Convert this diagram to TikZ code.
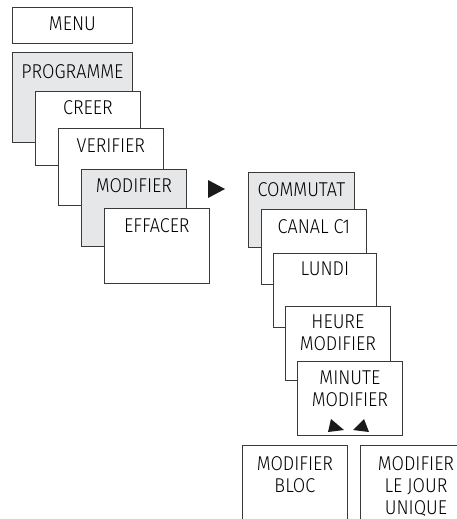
\documentclass[tikz,border=0pt]{standalone}
\usepackage{fontspec}
\setmainfont{Fira Sans Light}[FakeStretch=0.9]
\definecolor{linec}{HTML}{3A3A3A}
\definecolor{grayc}{HTML}{E6E7E8}
\definecolor{arrc}{HTML}{1A1A1A}
\begin{document}
\begin{tikzpicture}[x=1pt,y=-1pt,
  box/.style={draw=linec, line width=0.8pt, fill=white, inner sep=0pt, anchor=north west},
  gbox/.style={box, fill=grayc},
  txt/.style={anchor=north, inner sep=0pt, align=center, text=black,
    font=\fontsize{20}{22}\selectfont},
  tri/.style={fill=arrc}]
\useasboundingbox (0,0) rectangle (457,519);
\clip (0,0) rectangle (457,519);
% left column
\node[box, minimum width=120pt, minimum height=36pt] (menu) at (12,7) {};
\node[txt] (menu-t) at ([yshift=-10pt]menu.north) {MENU};
\node[gbox, minimum width=120pt, minimum height=90pt] (prog) at (12,52) {};
\node[txt] (prog-t) at ([yshift=-12pt]prog.north) {PROGRAMME};
\node[box, minimum width=105pt, minimum height=74pt] (creer) at (35,91) {};
\node[txt] (creer-t) at ([yshift=-9pt]creer.north) {CREER};
\node[box, minimum width=105pt, minimum height=77pt] (verif) at (58,128) {};
\node[txt] (verif-t) at ([yshift=-11pt]verif.north) {VERIFIER};
\node[gbox, minimum width=105pt, minimum height=77pt] (modif) at (81,169) {};
\node[txt] (modif-t) at ([yshift=-9pt]modif.north) {MODIFIER};
\node[box, minimum width=105pt, minimum height=75pt] (effac) at (104,208) {};
\node[txt] (effac-t) at ([yshift=-10pt]effac.north) {EFFACER};
% arrow
\fill[tri] (208,180) -- (225,189) -- (208,198) -- cycle;
% right column
\node[gbox, minimum width=106pt, minimum height=75pt] (comm) at (248,172) {};
\node[txt] (comm-t) at ([yshift=-10pt]comm.north) {COMMUTAT};
\node[box, minimum width=105pt, minimum height=75pt] (canal) at (261,209) {};
\node[txt] (canal-t) at ([yshift=-10pt]canal.north) {CANAL C1};
\node[box, minimum width=103pt, minimum height=74pt] (lundi) at (273,253) {};
\node[txt] (lundi-t) at ([yshift=-9pt]lundi.north) {LUNDI};
\node[box, minimum width=105pt, minimum height=74pt] (heure) at (285,306) {};
\node[txt] (heure-t) at ([yshift=-9pt]heure.north) {HEURE\\MODIFIER};
\node[box, minimum width=105pt, minimum height=74pt] (minute) at (297,361) {};
\node[txt] (minute-t) at ([yshift=-10pt]minute.north) {MINUTE\\MODIFIER};
\fill[tri] (331,419) -- (344,430) -- (328,432) -- cycle;
\fill[tri] (364,419) -- (353,430) -- (369,432) -- cycle;
% bottom boxes (open at page edge)
\node[box, minimum width=105pt, minimum height=90pt] (bloc) at (242,445) {};
\node[txt] (bloc-t) at ([yshift=-11pt]bloc.north) {MODIFIER\\BLOC};
\node[box, minimum width=112pt, minimum height=90pt] (jour) at (360,445) {};
\node[txt] (jour-t) at ([yshift=-11pt]jour.north west) [xshift=56pt] {MODIFIER\\LE JOUR\\UNIQUE};
\end{tikzpicture}
\end{document}
